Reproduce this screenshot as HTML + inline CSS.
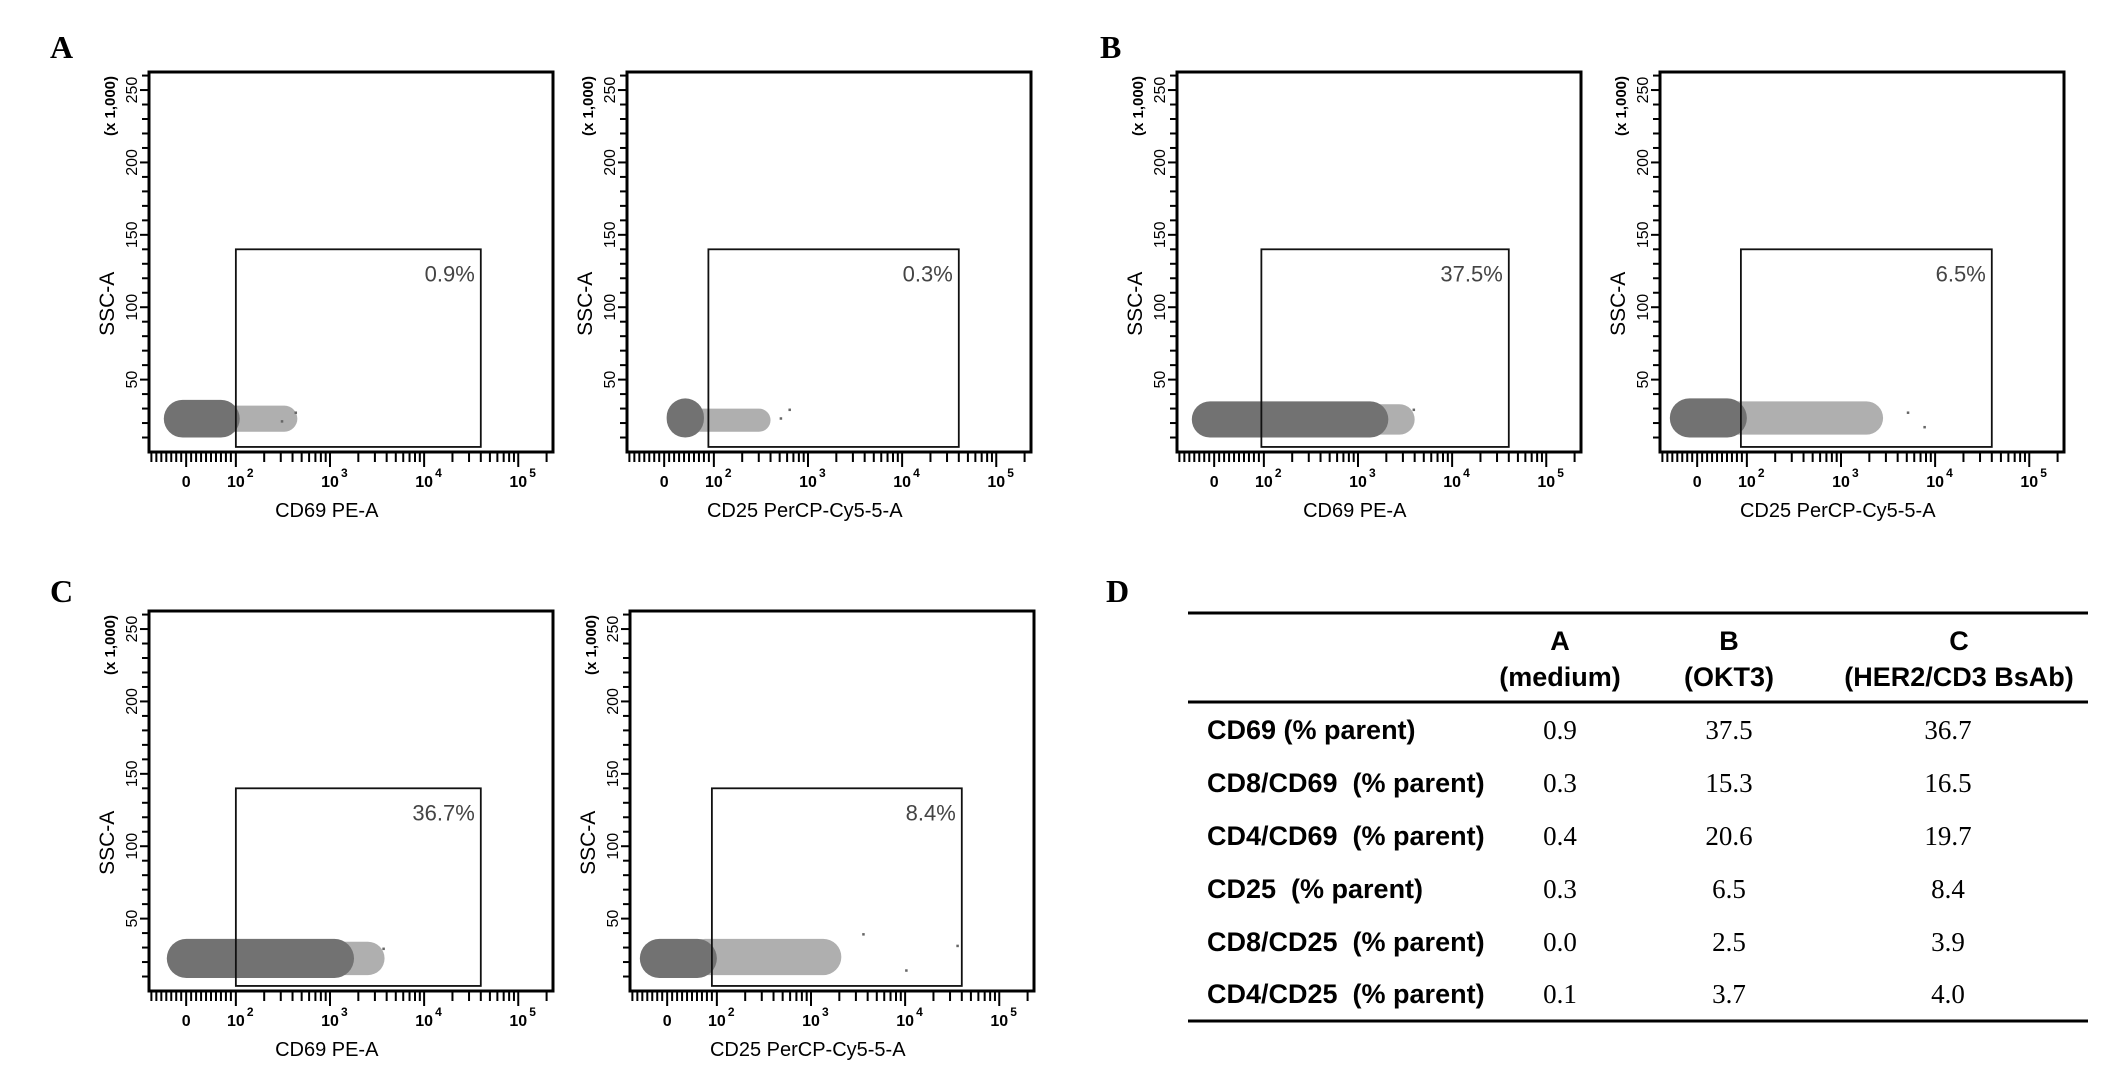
<!DOCTYPE html>
<html><head><meta charset="utf-8"><style>
html,body{margin:0;padding:0;background:#fff;}
svg{display:block;}
text{white-space:pre;}
</style></head><body>
<svg id="fig" xmlns="http://www.w3.org/2000/svg" width="2126" height="1070" viewBox="0 0 2126 1070">
<rect x="0" y="0" width="2126" height="1070" fill="#fff"/>
<g font-family="Liberation Serif, serif" font-weight="bold" font-size="32" fill="#000">
<text x="50" y="58">A</text>
<text x="1100" y="58">B</text>
<text x="50" y="602">C</text>
<text x="1106" y="602">D</text>
</g>
<g id="plots"></g>
<g id="table"></g>
</svg>
<script>
// ---- data ----
const panelIds = ['a1','a2','b1','b2','c1','c2'];
const xTitles = ['CD69 PE-A','CD25 PerCP-Cy5-5-A','CD69 PE-A','CD25 PerCP-Cy5-5-A','CD69 PE-A','CD25 PerCP-Cy5-5-A'];
const gatePct = ['0.9%','0.3%','37.5%','6.5%','36.7%','8.4%'];
const gateXLow = [100, 89, 95, 88, 100, 90];
const gateXHigh = [40000, 40000, 40000, 40000, 40000, 40000];
const gateYLow = [3.5,3.5,3.5,3.5,3.5,3.5];
const gateYHigh = [140,140,140,140,140,140];
const mainX0 = [-45, 5, -45, -55, -39, -55];
const mainX1 = [110, 80, 2100, 100, 1800, 100];
const mainY0 = [10, 10, 10, 10, 9, 9];
const mainY1 = [36, 37, 35, 37, 36, 36];
const tailX1 = [450, 400, 4000, 2800, 3800, 2100];
const tailY0 = [14, 14, 12, 12, 11, 11];
const tailY1 = [32, 30, 33, 35, 34, 36];
const outP = [0,0,1,1,2,3,3,4,5,5,5];
const outX = [300,420,500,620,3800,5000,7500,3600,3500,10000,35000];
const outY = [22,28,24,30,30,28,18,30,40,15,32];
const yTicks = [50,100,150,200,250];
const xTickLabels = ['0','10','10','10','10'];
const xTickExp = ['','2','3','4','5'];
const xTickVals = [0,100,1000,10000,100000];
const colHead1 = ['A','B','C'];
const colHead2 = ['(medium)','(OKT3)','(HER2/CD3 BsAb)'];
const rowLabels = ['CD69 (% parent)','CD8/CD69  (% parent)','CD4/CD69  (% parent)','CD25  (% parent)','CD8/CD25  (% parent)','CD4/CD25  (% parent)'];
const valA = ['0.9','0.3','0.4','0.3','0.0','0.1'];
const valB = ['37.5','15.3','20.6','6.5','2.5','3.7'];
const valC = ['36.7','16.5','19.7','8.4','3.9','4.0'];

// ---- layout ----
const boxL = [149,627,1177,1660,149,630];
const boxT = [72,72,72,72,611,611];
const BW = 404, BH = 380;
const NS='http://www.w3.org/2000/svg';
function mk(tag, attrs, parent, txt){const e=document.createElementNS(NS,tag);for(const k in attrs)e.setAttribute(k,attrs[k]);if(txt!==undefined)e.textContent=txt;parent.appendChild(e);return e;}
function fx(v){return v>=100 ? 0.215+(Math.log10(v)-2)*0.233 : 0.092+(v/100)*0.123;}
function fy(v){return 1 - v*0.00381;}
const SF='Liberation Sans, sans-serif';

const plots=document.getElementById('plots');
panelIds.forEach((id,i)=>{
  const L=boxL[i],T=boxT[i];
  const X=v=>L+fx(v)*BW, Y=v=>T+fy(v)*BH;
  const g=mk('g',{},plots);
  
  
  const tx0=X(mainX1[i])-30;
  const th=Y(tailY0[i])-Y(tailY1[i]);
  const t=mk('rect',{x:tx0,y:Y(tailY1[i]),width:X(tailX1[i])-tx0,height:th,rx:th/2,fill:'#7a7a7a','fill-opacity':0.6},g);
  
  
  const mh=Y(mainY0[i])-Y(mainY1[i]);
  const m=mk('rect',{x:X(mainX0[i]),y:Y(mainY1[i]),width:X(mainX1[i])-X(mainX0[i]),height:mh,rx:Math.min(mh/2,(X(mainX1[i])-X(mainX0[i]))/2),fill:'#727272'},g);
  
  
  outP.forEach((p,k)=>{ if(p!==i)return;
    const d=mk('rect',{x:X(outX[k]),y:Y(outY[k]),width:2.5,height:2.5,fill:'#666'},g);
    
    
  });
  const b=mk('rect',{x:L,y:T,width:BW,height:BH,fill:'none',stroke:'#000','stroke-width':3},g);
  
  
  const gx0=X(gateXLow[i]),gx1=X(gateXHigh[i]),gy0=Y(gateYHigh[i]),gy1=Y(gateYLow[i]);
  const gr=mk('rect',{x:gx0,y:gy0,width:gx1-gx0,height:gy1-gy0,fill:'none',stroke:'#111','stroke-width':1.8},g);
  
  
  const gt=mk('text',{x:gx1-6,y:gy0+32,'text-anchor':'end','font-family':SF,'font-size':22,fill:'#444'},g,gatePct[i]);
  
  
  for(let v=10;v<=260;v+=10){const yy=Y(v);if(yy<T)continue;mk('line',{x1:L-(v%50?7:9),x2:L,y1:yy,y2:yy,stroke:'#000','stroke-width':2},g);}
  yTicks.forEach(v=>{const yy=Y(v);
    const tl=mk('text',{transform:`translate(${L-12},${yy}) rotate(-90)`,'text-anchor':'middle','font-family':SF,'font-size':16,fill:'#000'},g,String(v));
    
    
  });
  const yu=mk('text',{transform:`translate(${L-34},${T+34}) rotate(-90)`,'text-anchor':'middle','font-family':SF,'font-size':15,'font-weight':'bold'},g,'(x 1,000)');
  
  
  const yt=mk('text',{transform:`translate(${L-35},${T+BH*0.61}) rotate(-90)`,'text-anchor':'middle','font-family':SF,'font-size':21},g,'SSC-A');
  
  
  const B=T+BH;
  for(let v=-70;v<100;v+=10){const xx=X(v);if(xx<L-1)continue;mk('line',{x1:xx,x2:xx,y1:B,y2:B+(v===0?15:10),stroke:'#000','stroke-width':2},g);}
  for(let d=2;d<=5;d++){for(let k=1;k<=9;k++){const v=k*Math.pow(10,d);const xx=X(v);if(xx>L+BW-6)continue;mk('line',{x1:xx,x2:xx,y1:B,y2:B+(k===1?15:10),stroke:'#000','stroke-width':2},g);}}
  xTickVals.forEach((v,k)=>{const xx=X(v);
    const tl=mk('text',{x:xx,y:B+35,'text-anchor':'middle','font-family':SF,'font-size':16,'font-weight':'bold'},g,xTickLabels[k]);
    
    
    if(xTickExp[k]) mk('text',{x:xx+11,y:B+25,'font-family':SF,'font-size':12,'font-weight':'bold'},g,xTickExp[k]);
  });
  const xt=mk('text',{x:L+BW*0.44,y:B+65,'text-anchor':'middle','font-family':SF,'font-size':20},g,xTitles[i]);
  
  
});

// table
const tb=document.getElementById('table');
[[613,3],[702,3],[1021,3]].forEach(([y,w])=>{const l=mk('line',{x1:1188,x2:2088,y1:y,y2:y,stroke:'#000','stroke-width':w},tb);
  
  });
const colX=[1560,1729,1959];
colHead1.forEach((h,k)=>{
  const a=mk('text',{x:colX[k],y:650,'text-anchor':'middle','font-family':SF,'font-weight':'bold','font-size':27},tb,h);
  
  
  const b=mk('text',{x:colX[k],y:686,'text-anchor':'middle','font-family':SF,'font-weight':'bold','font-size':27},tb,colHead2[k]);
  
  
});
const rowY=[739,792,845,898,951,1003];
rowLabels.forEach((r,k)=>{
  const t=mk('text',{x:1207,y:rowY[k],'font-family':SF,'font-weight':'bold','font-size':27},tb,r);
  
  
  [valA,valB,valC].forEach((arr,c)=>{
    const v=mk('text',{x:c===2?1948:colX[c],y:rowY[k],'text-anchor':'middle','font-family':'Liberation Serif, serif','font-size':27},tb,arr[k]);
    
    
  });
});
</script>
</body></html>
